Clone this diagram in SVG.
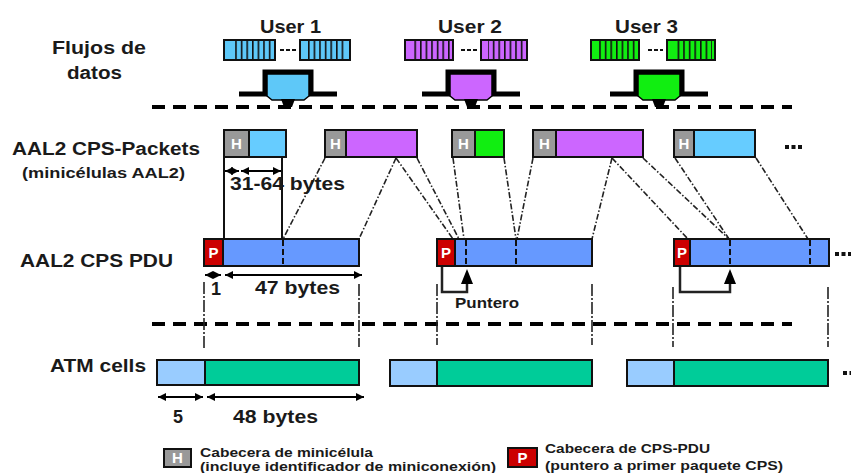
<svg xmlns="http://www.w3.org/2000/svg" width="851" height="473" viewBox="0 0 851 473">
<style>
text{font-family:"Liberation Sans",Arial,sans-serif;font-weight:bold;fill:#1a1a1a}
.lbl{font-size:18px}
.sm{font-size:14px}
.leg{font-size:12px}
.box{stroke:#111;stroke-width:2}
.hdr{fill:#999}
.ptr{fill:#cc0000}
.hp{fill:#fff;font-size:15px;text-anchor:middle}
.cn{fill:none;stroke:#222;stroke-width:1.6;stroke-dasharray:6 2 1.5 2}
.sep{stroke:#111;stroke-width:2;stroke-dasharray:6 3}
.vb{stroke:#222;stroke-width:1.6;stroke-dasharray:12 2 2 2}
.hd{stroke:#000;stroke-width:4;stroke-dasharray:13 8}
.ext{stroke:#111;stroke-width:2}
.dim{stroke:#000;stroke-width:2;marker-start:url(#ah);marker-end:url(#ah)}
.pt{fill:none;stroke:#222;stroke-width:2.5}
.dots{stroke:#111;stroke-width:2;stroke-dasharray:4 2}
.ell{stroke:#111;stroke-width:4;stroke-dasharray:4 2.5}
</style>
<defs>
<marker id="ah" viewBox="0 0 10 10" refX="10" refY="5" markerWidth="4.5" markerHeight="4" orient="auto-start-reverse"><path d="M0,0 L10,5 L0,10 z" fill="#000"/></marker>
<pattern id="st" width="5.6" height="20" patternUnits="userSpaceOnUse"><rect x="0" y="0" width="1.6" height="20" fill="#111"/></pattern>
<g id="fn">
<path d="M-23,94 H3 V72 H49 V94 H75" fill="none" stroke="#000" stroke-width="5"/>
<polygon points="5,74 47,74 47,96 42,100 10,100 5,96" stroke="#000" stroke-width="1.5"/>
<polygon points="19,99 33,99 30,107 22,107" fill="#000"/>
</g>
</defs>

<g id="labels">
<text class="lbl" x="52" y="54" textLength="94" lengthAdjust="spacingAndGlyphs">Flujos de</text>
<text class="lbl" x="67" y="79" textLength="55" lengthAdjust="spacingAndGlyphs">datos</text>
<text class="lbl" x="12" y="155" textLength="188" lengthAdjust="spacingAndGlyphs">AAL2 CPS-Packets</text>
<text class="sm" x="22" y="178" textLength="163" lengthAdjust="spacingAndGlyphs">(minicélulas AAL2)</text>
<text class="lbl" x="20" y="267" textLength="153" lengthAdjust="spacingAndGlyphs">AAL2 CPS PDU</text>
<text class="lbl" x="50" y="372" textLength="96" lengthAdjust="spacingAndGlyphs">ATM cells</text>
</g>

<g id="separators">
<line class="hd" x1="152" y1="107" x2="792" y2="107"/>
<line class="hd" x1="152" y1="324" x2="792" y2="324"/>
</g>

<g id="user1">
<text class="lbl" x="260" y="33" textLength="61" lengthAdjust="spacingAndGlyphs">User 1</text>
<rect class="box" x="224" y="40" width="51" height="20" fill="#5ec8f8"/>
<rect x="232" y="41" width="40" height="18" fill="url(#st)"/>
<line class="dots" x1="280" y1="50" x2="296" y2="50"/>
<rect class="box" x="300" y="40" width="50" height="20" fill="#5ec8f8"/>
<rect x="307" y="41" width="40" height="18" fill="url(#st)"/>
<use href="#fn" x="262" fill="#5ec8f8"/>
</g>
<g id="user2">
<text class="lbl" x="438" y="33" textLength="64" lengthAdjust="spacingAndGlyphs">User 2</text>
<rect class="box" x="405" y="40" width="48" height="20" fill="#cc66ff"/>
<rect x="413" y="41" width="37" height="18" fill="url(#st)"/>
<line class="dots" x1="461" y1="50" x2="477" y2="50"/>
<rect class="box" x="481" y="40" width="46" height="20" fill="#cc66ff"/>
<rect x="488" y="41" width="36" height="18" fill="url(#st)"/>
<use href="#fn" x="445" fill="#cc66ff"/>
</g>
<g id="user3">
<text class="lbl" x="615" y="33" textLength="63" lengthAdjust="spacingAndGlyphs">User 3</text>
<rect class="box" x="591" y="40" width="48" height="20" fill="#11ee11"/>
<rect x="598" y="41" width="38" height="18" fill="url(#st)"/>
<line class="dots" x1="648" y1="50" x2="663" y2="50"/>
<rect class="box" x="667" y="40" width="48" height="20" fill="#11ee11"/>
<rect x="674" y="41" width="38" height="18" fill="url(#st)"/>
<use href="#fn" x="633" fill="#11ee11"/>
</g>

<g id="pk1">
<rect class="box hdr" x="224" y="130" width="25" height="27"/><text class="hp" x="236.5" y="149">H</text>
<rect class="box" x="249" y="130" width="37" height="27" fill="#66ccff"/>
</g>
<g id="pk2">
<rect class="box hdr" x="325" y="130" width="21" height="27"/><text class="hp" x="335.5" y="149">H</text>
<rect class="box" x="346" y="130" width="71" height="27" fill="#cc66ff"/>
</g>
<g id="pk3">
<rect class="box hdr" x="452" y="130" width="23" height="27"/><text class="hp" x="463.5" y="149">H</text>
<rect class="box" x="475" y="130" width="29" height="27" fill="#11ee11"/>
</g>
<g id="pk4">
<rect class="box hdr" x="533" y="130" width="23" height="27"/><text class="hp" x="544.5" y="149">H</text>
<rect class="box" x="556" y="130" width="87" height="27" fill="#cc66ff"/>
</g>
<g id="pk5">
<rect class="box hdr" x="674" y="130" width="20" height="27"/><text class="hp" x="684" y="149">H</text>
<rect class="box" x="694" y="130" width="61" height="27" fill="#66ccff"/>
<line class="ell" x1="785" y1="147" x2="804" y2="147"/>
</g>

<g id="connectors">
<line class="ext" x1="224" y1="157" x2="224" y2="239"/>
<line class="ext" x1="282" y1="157" x2="282" y2="239"/>
<line class="cn" x1="325" y1="158" x2="283" y2="239"/>
<line class="cn" x1="396" y1="158" x2="359" y2="239"/>
<line class="cn" x1="396" y1="158" x2="453" y2="239"/>
<line class="cn" x1="417" y1="158" x2="459" y2="239"/>
<line class="cn" x1="453" y1="158" x2="464" y2="239"/>
<line class="cn" x1="504" y1="158" x2="516" y2="239"/>
<line class="cn" x1="533" y1="158" x2="517" y2="239"/>
<line class="cn" x1="612" y1="158" x2="592" y2="239"/>
<line class="cn" x1="612" y1="158" x2="688" y2="239"/>
<line class="cn" x1="643" y1="158" x2="729" y2="239"/>
<line class="cn" x1="675" y1="158" x2="729" y2="239"/>
<line class="cn" x1="756" y1="158" x2="808" y2="239"/>
<line class="vb" x1="204" y1="282" x2="204" y2="349"/>
<line class="vb" x1="359" y1="284" x2="359" y2="347"/>
<line class="vb" x1="437" y1="284" x2="437" y2="345"/>
<line class="vb" x1="592" y1="284" x2="592" y2="345"/>
<line class="vb" x1="673" y1="287" x2="673" y2="347"/>
<line class="vb" x1="828" y1="287" x2="828" y2="347"/>
<path class="pt" d="M442,266 V292 H467 V283"/>
<polygon points="467,269 461,284 473,284" fill="#000"/>
<path class="pt" d="M680,266 V292 H730 V283"/>
<polygon points="730,269 724,284 736,284" fill="#000"/>
<line class="dim" x1="225" y1="171" x2="239" y2="171"/>
<line class="dim" x1="241" y1="171" x2="281" y2="171"/>
<line class="dim" x1="205" y1="275" x2="221" y2="275"/>
<line class="dim" x1="225" y1="275" x2="362" y2="275"/>
<line class="dim" x1="158" y1="397" x2="203" y2="397"/>
<line class="dim" x1="207" y1="397" x2="364" y2="397"/>
</g>

<g id="dimlabels">
<text class="lbl" x="230" y="190" textLength="115" lengthAdjust="spacingAndGlyphs">31-64 bytes</text>
<text class="lbl" x="211" y="295">1</text>
<text class="lbl" x="255" y="294" textLength="85" lengthAdjust="spacingAndGlyphs">47 bytes</text>
<text x="455" y="308" font-size="15" textLength="64" lengthAdjust="spacingAndGlyphs">Puntero</text>
<text class="lbl" x="173" y="423">5</text>
<text class="lbl" x="233" y="423" textLength="85" lengthAdjust="spacingAndGlyphs">48 bytes</text>
</g>

<g id="pdu1">
<rect class="box ptr" x="204" y="239" width="19" height="27"/><text class="hp" x="213.5" y="258">P</text>
<rect class="box" x="223" y="239" width="136" height="27" fill="#6699ff"/>
<line class="sep" x1="283" y1="240" x2="283" y2="265"/>
</g>
<g id="pdu2">
<rect class="box ptr" x="437" y="239" width="18" height="27"/><text class="hp" x="446" y="258">P</text>
<rect class="box" x="455" y="239" width="137" height="27" fill="#6699ff"/>
<line class="sep" x1="466" y1="240" x2="466" y2="265"/>
<line class="sep" x1="516" y1="240" x2="516" y2="265"/>
</g>
<g id="pdu3">
<rect class="box ptr" x="674" y="239" width="16" height="27"/><text class="hp" x="682" y="258">P</text>
<rect class="box" x="690" y="239" width="139" height="27" fill="#6699ff"/>
<line class="sep" x1="730" y1="240" x2="730" y2="265"/>
<line class="sep" x1="810" y1="240" x2="810" y2="265"/>
<line class="ell" x1="835" y1="254" x2="851" y2="254"/>
</g>

<g id="cell1">
<rect class="box" x="157" y="360" width="48" height="25" fill="#99ccff"/>
<rect class="box" x="205" y="360" width="154" height="25" fill="#00cc99"/>
</g>
<g id="cell2">
<rect class="box" x="390" y="360" width="47" height="26" fill="#99ccff"/>
<rect class="box" x="437" y="360" width="155" height="26" fill="#00cc99"/>
</g>
<g id="cell3">
<rect class="box" x="627" y="360" width="47" height="26" fill="#99ccff"/>
<rect class="box" x="674" y="360" width="154" height="26" fill="#00cc99"/>
<line class="ell" x1="843" y1="373" x2="851" y2="373"/>
</g>

<g id="legend">
<rect class="box hdr" x="164" y="449" width="27" height="18"/><text class="hp" x="177.5" y="463" font-size="13">H</text>
<text class="leg" x="200" y="457" textLength="173" lengthAdjust="spacingAndGlyphs">Cabecera de minicélula</text>
<text class="leg" x="200" y="471" textLength="296" lengthAdjust="spacingAndGlyphs">(incluye identificador  de miniconexión)</text>
<rect class="box ptr" x="508" y="448" width="29" height="19"/><text class="hp" x="522.5" y="463" font-size="14">P</text>
<text class="leg" x="545" y="453" textLength="165" lengthAdjust="spacingAndGlyphs">Cabecera de CPS-PDU</text>
<text class="leg" x="545" y="470" textLength="238" lengthAdjust="spacingAndGlyphs">(puntero a  primer paquete CPS)</text>
</g>
</svg>
